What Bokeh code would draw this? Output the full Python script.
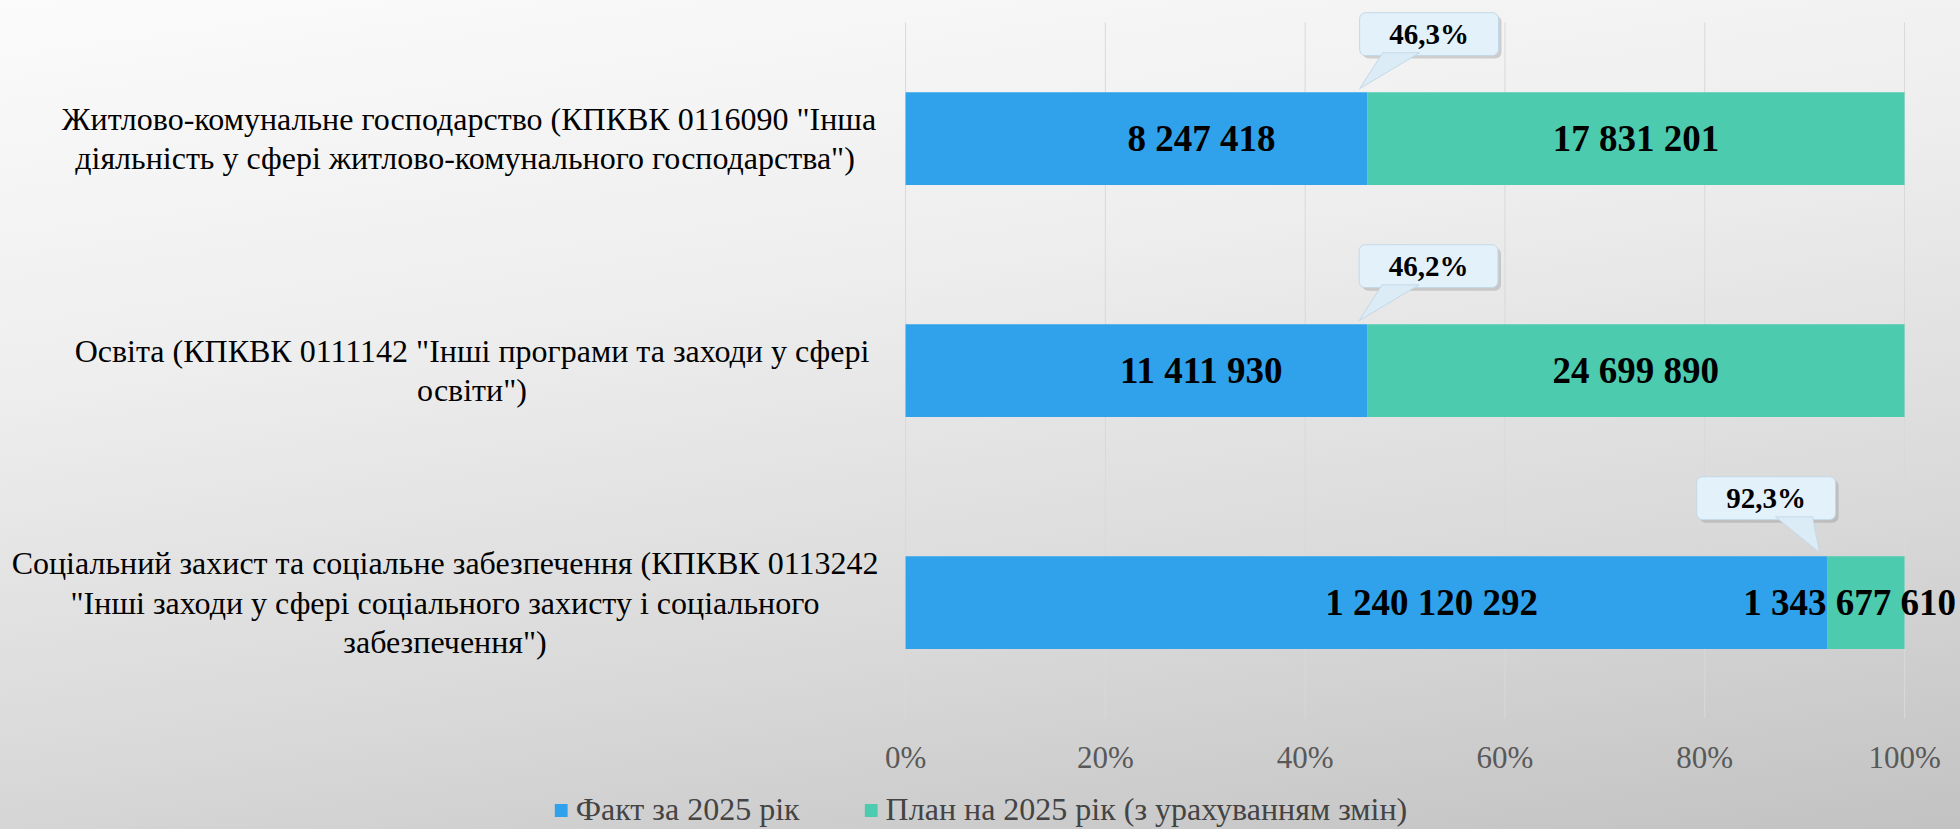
from bokeh.plotting import figure
from bokeh.models import (Range1d, Legend, LegendItem,
                          ColumnDataSource, InlineStyleSheet)
from bokeh.core.properties import value
from bokeh.embed import file_html
from bokeh.resources import INLINE

# ---------------- data ----------------
categories = [
    'Житлово-комунальне господарство (КПКВК 0116090 "Інша\nдіяльність  у сфері житлово-комунального господарства")',
    'Освіта (КПКВК 0111142 "Інші програми та заходи у сфері\nосвіти")',
    'Соціальний захист та соціальне забезпечення (КПКВК 0113242\n"Інші заходи у сфері соціального захисту і соціального\nзабезпечення")',
]
fact_values = [8247418, 11411930, 1240120292]
plan_values = [17831201, 24699890, 1343677610]
series_names = ["Факт за 2025 рік", "План на 2025 рік (з урахуванням змін)"]
tick_values = [0, 0.2, 0.4, 0.6, 0.8, 1.0]
tick_labels = ["0%", "20%", "40%", "60%", "80%", "100%"]

# ---------------- styles ----------------
callout_side = [1, 1, -1]                 # callout box right (+1) / left (-1) of the split
cat_label_x = [-0.437, -0.434, -0.461]    # centre of each wrapped category label (axis units)
BLUE = "#30A2EC"
GREEN = "#4DCBAF"
FONT = "Liberation Serif"
BAR_H = 0.4

def fmt_num(v):
    return f"{v:,}".replace(",", " ")

n = len(categories)
ys = [n - 1 - i for i in range(n)]
frac = [f / p for f, p in zip(fact_values, plan_values)]

src = ColumnDataSource(dict(
    y=ys,
    frac=frac,
    fact_lbl=[fmt_num(v) for v in fact_values],
    plan_lbl=[fmt_num(v) for v in plan_values],
    fact_x=[fr / 2 + 0.065 for fr in frac],
    plan_x=[min((1 + fr) / 2, 0.945) for fr in frac],
    cat=categories,
    cat_x=cat_label_x,
))

ticks_src = ColumnDataSource(dict(
    x=tick_values, lbl=tick_labels,
    y0=[-0.5] * len(tick_values), y1=[n - 0.5] * len(tick_values),
    ylab=[-0.668] * len(tick_values),
))

# callouts
bw, bh, boff = 0.0695, 0.0925, 0.45
cx = [fr + s * 0.0615 for fr, s in zip(frac, callout_side)]
cy = [y + boff for y in ys]
call = ColumnDataSource(dict(
    left=[c - bw for c in cx], right=[c + bw for c in cx],
    bottom=[c - bh for c in cy], top=[c + bh for c in cy],
    sleft=[c - bw + 0.003 for c in cx], sright=[c + bw + 0.003 for c in cx],
    sbottom=[c - bh - 0.013 for c in cy], stop=[c + bh - 0.013 for c in cy],
    x=cx, y=cy,
    pct=[f"{fr*100:.1f}%".replace(".", ",") for fr in frac],
))
tail_xs, tail_ys = [], []
for fr, s, y, c in zip(frac, callout_side, ys, cy):
    tail_xs.append([fr + s * 0.015, fr + s * 0.052, fr - 0.008])
    base = c - bh + 0.012
    tail_ys.append([base, base, y + BAR_H / 2 + 0.015])
tails = ColumnDataSource(dict(xs=tail_xs, ys=tail_ys))

# ---------------- figure ----------------
p = figure(width=1960, height=829,
           x_range=Range1d(-0.906, 1.056), y_range=Range1d(-0.978, 2.595),
           output_backend="svg", toolbar_location=None,
           x_axis_location=None, y_axis_location=None,
           min_border=0)
p.outline_line_color = None
p.background_fill_alpha = 0
p.border_fill_alpha = 0
p.stylesheets = [InlineStyleSheet(css=
    ":host { background: linear-gradient(172deg, #fbfbfb 0%, #eeeeee 35%, #d9d9d9 70%, #c2c2c2 100%); }")]
p.grid.visible = False

# vertical grid lines at the percentage ticks
p.segment(x0="x", x1="x", y0="y0", y1="y1", source=ticks_src,
          line_color="#d9d9d9", line_width=1)
# percentage tick labels
p.text(x="x", y="ylab", text="lbl", source=ticks_src, text_align="center",
       text_baseline="middle", text_font=value(FONT), text_font_size="31px",
       text_color="#595959")

# bars
r_fact = p.hbar(y="y", left=0, right="frac", height=BAR_H, source=src,
                fill_color=BLUE, line_color=None)
r_plan = p.hbar(y="y", left="frac", right=1, height=BAR_H, source=src,
                fill_color=GREEN, line_color=None)

# value labels
p.text(x="fact_x", y="y", text="fact_lbl", source=src, text_align="center",
       text_baseline="middle", text_font=value(FONT), text_font_style="bold",
       text_font_size="37px", text_color="black")
p.text(x="plan_x", y="y", text="plan_lbl", source=src, text_align="center",
       text_baseline="middle", text_font=value(FONT), text_font_style="bold",
       text_font_size="37px", text_color="black")

# category labels
p.text(x="cat_x", y="y", text="cat", source=src, text_align="center",
       text_baseline="middle", text_font=value(FONT), text_font_size="32px",
       text_color="black", text_line_height=1.09)

# callouts
p.quad(left="sleft", right="sright", bottom="sbottom", top="stop", source=call,
       fill_color="#8a8a8a", fill_alpha=0.35, line_color=None, border_radius=6)
p.quad(left="left", right="right", bottom="bottom", top="top", source=call,
       fill_color="#e3f1fa", line_color="#c3d8e6", line_width=1, border_radius=6)
p.patches(xs="xs", ys="ys", source=tails, fill_color="#dcecf6",
          line_color="#c3d8e6", line_width=1)
p.text(x="x", y="y", text="pct", source=call, text_align="center",
       text_baseline="middle", text_font=value(FONT), text_font_style="bold",
       text_font_size="29px", text_color="black")

# legend
legend = Legend(items=[LegendItem(label=series_names[0], renderers=[r_fact]),
                       LegendItem(label=series_names[1], renderers=[r_plan])],
                orientation="horizontal", location="bottom_center")
legend.background_fill_alpha = 0
legend.border_line_color = None
legend.label_text_font = FONT
legend.label_text_font_size = "32px"
legend.glyph_width = 16
legend.glyph_height = 16
legend.label_standoff = 7
legend.spacing = 63
legend.padding = 0
legend.margin = 1
p.add_layout(legend, "center")

open("out.html", "w").write(file_html(p, INLINE))
